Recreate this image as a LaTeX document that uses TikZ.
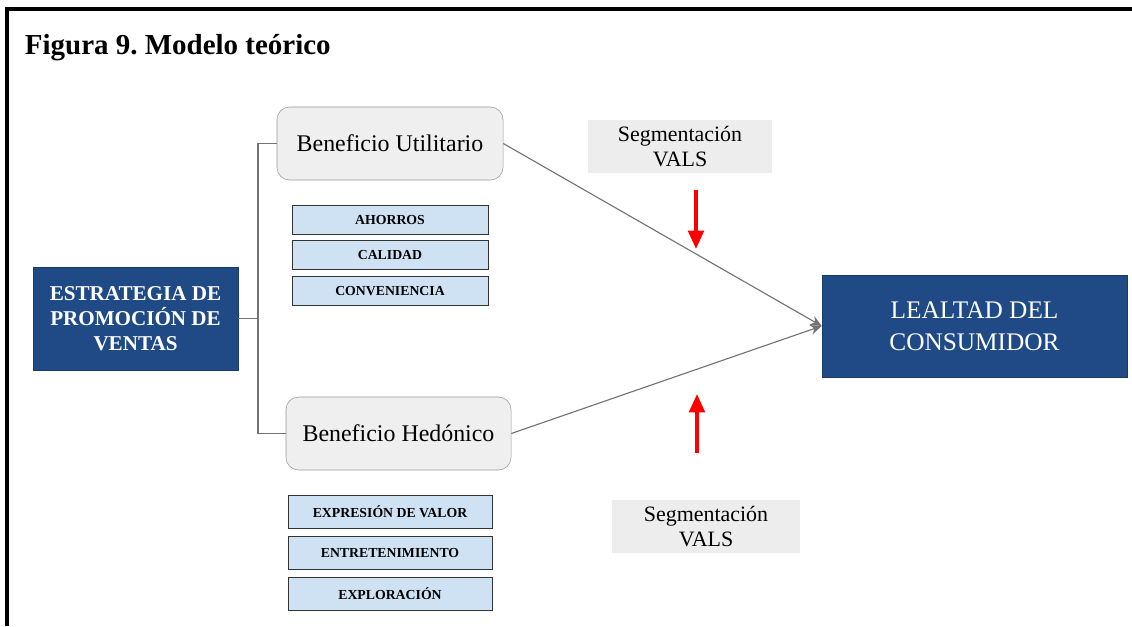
\documentclass[tikz,border=0pt]{standalone}
\usepackage{fontspec}
\setmainfont{Liberation Serif}
\usetikzlibrary{arrows.meta}
\frenchspacing
\definecolor{darkblue}{HTML}{1F4A86}
\definecolor{lightblue}{HTML}{CFE2F3}
\definecolor{boxgray}{HTML}{EFEFEF}
\definecolor{seggray}{HTML}{EDEDED}
\begin{document}
\begin{tikzpicture}
    [
    x=0.025cm, y=-0.025cm,
    mainbox/.style = {fill=darkblue,draw=darkblue!80!black,text=white,align=center,inner sep=0pt},
    benefit/.style = {rounded corners=9pt,fill=boxgray,draw=gray!80,minimum height=1.825cm,inner sep=0pt,font=\fontsize{17}{20}\selectfont},
    item/.style = {fill=lightblue,draw=black!80,inner sep=0pt,font=\fontsize{9.8}{12}\selectfont\bfseries},
    segbox/.style = {fill=seggray,align=center,inner sep=0pt,minimum width=4.6cm,minimum height=1.325cm,font=\fontsize{15.6}{17.7}\selectfont},
    link/.style = {draw=gray!90!black,line width=0.8pt},
    redarrow/.style = {draw=red,line width=2.6pt,-{Triangle[length=13pt,width=11pt]}}
    ]
\useasboundingbox (0,0) rectangle (1132,626);

% frame and title
\draw[line width=2.2pt] (7,626) -- (7,9) -- (1132,9);
\node[anchor=base west,font=\fontsize{20.6}{24}\selectfont\bfseries] (title) at (20,54) {Figura 9. Modelo teórico};

% left block
\node[mainbox,minimum width=5.125cm,minimum height=2.575cm,font=\fontsize{15}{17.7}\selectfont\bfseries] (estr) at (135.5,318.5) {ESTRATEGIA DE\\PROMOCIÓN DE\\VENTAS};

% benefits
\node[benefit,minimum width=5.65cm] (util) at (390,143.5) {Beneficio Utilitario};
\node[benefit,minimum width=5.625cm] (hed) at (398.5,433.5) {Beneficio Hedónico};

\node[item,minimum width=4.9cm,minimum height=0.725cm] (ahorros) at (390,219.5) {AHORROS};
\node[item,minimum width=4.9cm,minimum height=0.725cm] (calidad) at (390,255) {CALIDAD};
\node[item,minimum width=4.9cm,minimum height=0.725cm] (conv) at (390,291) {CONVENIENCIA};

\node[item,minimum width=5.1cm,minimum height=0.825cm] (expr) at (390,511.5) {EXPRESIÓN DE VALOR};
\node[item,minimum width=5.1cm,minimum height=0.825cm] (entr) at (390,552.5) {ENTRETENIMIENTO};
\node[item,minimum width=5.1cm,minimum height=0.825cm] (expl) at (390,594) {EXPLORACIÓN};

% right block
\node[mainbox,minimum width=7.625cm,minimum height=2.55cm,font=\fontsize{18}{22.7}\selectfont] (leal) at (974.5,326) {LEALTAD DEL\\CONSUMIDOR};

% moderators
\node[segbox] (seg1) at (680,146.5) {Segmentación\\VALS};
\node[segbox,minimum width=4.7cm] (seg2) at (706,526.5) {Segmentación\\VALS};

% connectors
\coordinate (fork) at (258,318.5);
\draw[link] (estr.east) -- (fork) |- (util.west);
\draw[link] (fork) |- (hed.west);
\draw[link,-{Stealth[length=8pt,width=7pt]}] (util.east) -- (leal.west);
\draw[link,-{Stealth[length=8pt,width=7pt]}] (hed.east) -- (leal.west);

\coordinate (r1a) at (696,190);
\coordinate (r1b) at (696,249);
\coordinate (r2a) at (697,453);
\coordinate (r2b) at (697,394);
\draw[redarrow] (r1a) -- (r1b);
\draw[redarrow] (r2a) -- (r2b);

\end{tikzpicture}
\end{document}
